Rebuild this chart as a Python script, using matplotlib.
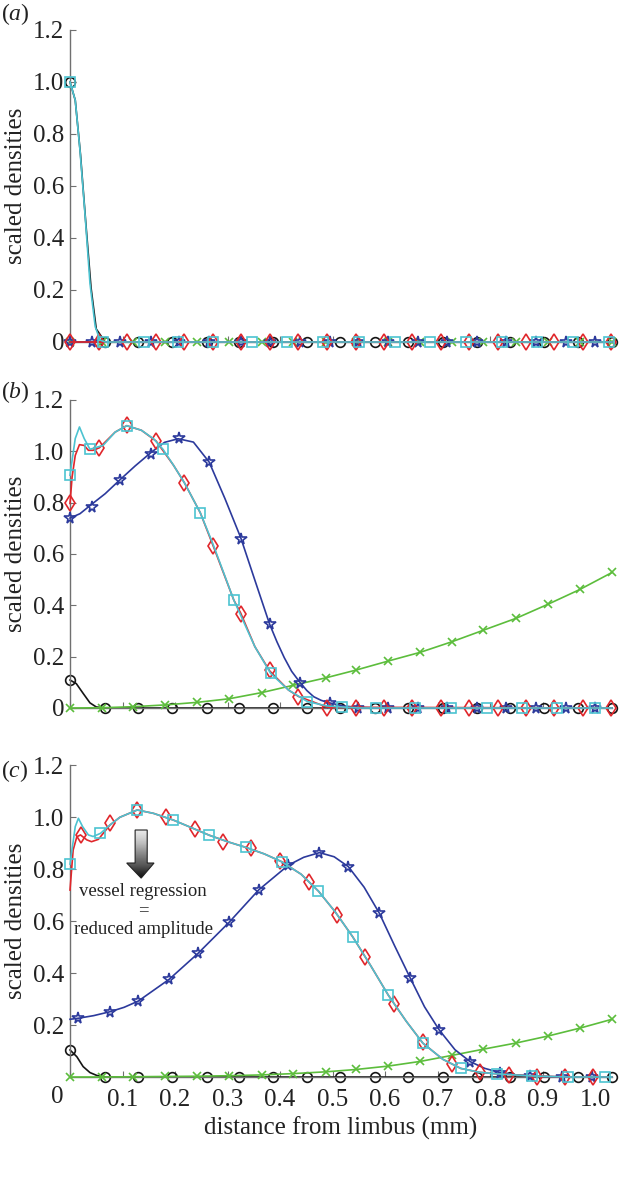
import matplotlib
matplotlib.use('Agg')
import matplotlib.pyplot as plt
import numpy as np
from matplotlib.patches import Polygon

plt.rcParams['font.family'] = ['Liberation Serif', 'DejaVu Serif']
plt.rcParams['mathtext.fontset'] = 'custom'
plt.rcParams['mathtext.it'] = 'Liberation Serif:italic'
plt.rcParams['mathtext.rm'] = 'Liberation Serif'

# ---- data ----
x_ticks = [0, 0.1, 0.2, 0.3, 0.4, 0.5, 0.6, 0.7, 0.8, 0.9, 1.0]
x_ticklabels = ['0', '0.1', '0.2', '0.3', '0.4', '0.5', '0.6', '0.7', '0.8', '0.9', '1.0']
y_ticks_ab = [0, 0.2, 0.4, 0.6, 0.8, 1.0, 1.2]
y_ticklabels_ab = ['0', '0.2', '0.4', '0.6', '0.8', '1.0', '1.2']
y_ticks_c = [0.2, 0.4, 0.6, 0.8, 1.0, 1.2]
y_ticklabels_c = ['0.2', '0.4', '0.6', '0.8', '1.0', '1.2']

# panel (a)
a_cyan_x = [0, 0.01, 0.019, 0.029, 0.038, 0.048, 0.057, 0.067, 1.032]
a_cyan_y = [1.0, 0.93, 0.738, 0.48, 0.226, 0.059, 0.008, 0, 0]
a_cyan_mx = [0, 0.063, 0.14, 0.206, 0.272, 0.346, 0.414, 0.482, 0.55, 0.618,
             0.686, 0.754, 0.822, 0.89, 0.958, 1.026]
a_cyan_my = [1.0, 0, 0, 0, 0, 0, 0, 0, 0, 0, 0, 0, 0, 0, 0, 0]
a_black_x = [0, 0.01, 0.02, 0.03, 0.04, 0.05, 0.067, 1.032]
a_black_y = [1.0, 0.93, 0.72, 0.46, 0.21, 0.05, 0, 0]
a_black_my = [1.0, 0, 0, 0, 0, 0, 0, 0, 0, 0, 0, 0, 0, 0, 0, 0, 0]
a_flat_x = [0, 1.032]
a_flat_y = [0, 0]
a_red_my = [0, 0, 0, 0, 0, 0, 0, 0, 0, 0, 0, 0, 0, 0, 0, 0, 0, 0, 0, 0]
a_blue_my = [0, 0, 0, 0, 0, 0, 0, 0, 0, 0, 0, 0, 0, 0, 0, 0, 0, 0, 0]
a_green_y = [0, 0, 0, 0, 0, 0, 0, 0, 0, 0, 0, 0, 0, 0, 0, 0, 0, 0]

# panel (b)
b_black_x = [0, 0.012, 0.025, 0.038, 0.05, 0.067, 1.032]
b_black_y = [0.109, 0.095, 0.057, 0.02, 0.004, 0, 0]
b_black_mx = [0, 0.067, 0.130, 0.195, 0.260, 0.321, 0.387, 0.452, 0.514, 0.581,
              0.644, 0.710, 0.775, 0.837, 0.902, 0.968, 1.032]
b_black_my = [0.109, 0, 0, 0, 0, 0, 0, 0, 0, 0, 0, 0, 0, 0, 0, 0, 0]

b_green_x = [0, 0.06, 0.12, 0.181, 0.242, 0.303, 0.365, 0.424, 0.488, 0.545,
             0.606, 0.667, 0.727, 0.787, 0.85, 0.911, 0.971, 1.032]
b_green_y = [0, 0.001, 0.005, 0.012, 0.022, 0.036, 0.06, 0.088, 0.118, 0.148,
             0.183, 0.217, 0.258, 0.303, 0.35, 0.405, 0.462, 0.528]

b_blue_x = [0, 0.019, 0.039, 0.067, 0.094, 0.124, 0.154, 0.18, 0.206, 0.235,
            0.265, 0.295, 0.325, 0.352, 0.380, 0.394, 0.408, 0.422, 0.437, 0.451,
            0.464, 0.478, 0.492, 0.52, 0.55, 0.6, 1.032]
b_blue_y = [0.74, 0.757, 0.79, 0.835, 0.887, 0.943, 0.995, 1.035, 1.049, 1.036,
            0.958, 0.816, 0.664, 0.498, 0.327, 0.258, 0.196, 0.143, 0.102, 0.068,
            0.044, 0.03, 0.021, 0.008, 0.002, 0, 0]
b_blue_mx = [0, 0.041, 0.095, 0.154, 0.208, 0.265, 0.325, 0.380, 0.438, 0.495,
             0.549, 0.605, 0.662, 0.718, 0.775, 0.831, 0.888, 0.944, 1.0]
b_blue_my = [0.74, 0.785, 0.887, 0.99, 1.05, 0.958, 0.66, 0.327, 0.098, 0.02,
             0, 0, 0, 0, 0, 0, 0, 0, 0]

b_red_x = [0, 0.004, 0.01, 0.018, 0.027, 0.035, 0.044, 0.056, 0.086, 0.108,
           0.136, 0.164, 0.197, 0.218, 0.248, 0.272, 0.312, 0.325, 0.352, 0.38,
           0.416, 0.435, 0.49, 1.032]
b_red_y = [0.797, 0.9, 0.984, 1.026, 1.023, 1.004, 1.004, 1.014, 1.075, 1.10,
           1.082, 1.04, 0.946, 0.877, 0.761, 0.635, 0.42, 0.37, 0.239, 0.145,
           0.07, 0.045, 0.003, 0]
b_red_mx = [0, 0.056, 0.108, 0.164, 0.218, 0.272, 0.325, 0.380, 0.435, 0.490,
            0.544, 0.598, 0.652, 0.706, 0.760, 0.814, 0.868, 0.922, 0.976, 1.03]
b_red_my = [0.797, 1.014, 1.104, 1.04, 0.877, 0.63, 0.368, 0.15, 0.042, 0,
            0, 0, 0, 0, 0, 0, 0, 0, 0, 0]

b_cyan_x = [0, 0.01, 0.018, 0.027, 0.038, 0.063, 0.086, 0.108, 0.136, 0.159,
            0.177, 0.197, 0.218, 0.248, 0.272, 0.312, 0.352, 0.382, 0.416, 0.452,
            0.489, 0.55, 1.032]
b_cyan_y = [0.907, 1.05, 1.095, 1.05, 1.008, 1.023, 1.075, 1.10, 1.082, 1.049,
            1.008, 0.946, 0.877, 0.761, 0.64, 0.42, 0.239, 0.135, 0.07, 0.025,
            0.008, 0, 0]
b_cyan_mx = [0, 0.038, 0.108, 0.177, 0.248, 0.312, 0.382, 0.452, 0.517, 0.583,
             0.657, 0.726, 0.794, 0.861, 0.928, 1.0]
b_cyan_my = [0.907, 1.008, 1.10, 1.008, 0.761, 0.42, 0.135, 0.025, 0.003, 0,
             0, 0, 0, 0, 0, 0]

# panel (c)
c_black_x = [0, 0.013, 0.025, 0.038, 0.051, 0.067, 1.032]
c_black_y = [0.104, 0.078, 0.04, 0.017, 0.006, 0, 0]
c_black_my = [0.104, 0, 0, 0, 0, 0, 0, 0, 0, 0, 0, 0, 0, 0, 0, 0, 0]

c_green_y = [0, 0, 0.001, 0.002, 0.003, 0.005, 0.008, 0.013, 0.02, 0.029,
             0.042, 0.06, 0.083, 0.107, 0.131, 0.158, 0.188, 0.222]

c_blue_x = [0, 0.016, 0.045, 0.076, 0.103, 0.130, 0.189, 0.244, 0.303, 0.359,
            0.416, 0.445, 0.475, 0.503, 0.530, 0.56, 0.589, 0.618, 0.648, 0.675,
            0.703, 0.733, 0.762, 0.79, 0.819, 0.85, 0.876, 0.937, 1.032]
c_blue_y = [0.222, 0.226, 0.236, 0.251, 0.268, 0.292, 0.376, 0.476, 0.595, 0.719,
            0.815, 0.845, 0.863, 0.847, 0.809, 0.73, 0.63, 0.505, 0.38, 0.27,
            0.181, 0.105, 0.059, 0.033, 0.017, 0.008, 0.004, 0, 0]
c_blue_mx = [0.016, 0.076, 0.130, 0.189, 0.244, 0.303, 0.359, 0.416, 0.475, 0.530,
             0.589, 0.648, 0.703, 0.762, 0.819, 0.876, 0.937, 0.994]
c_blue_my = [0.226, 0.251, 0.292, 0.376, 0.476, 0.595, 0.719, 0.815, 0.863, 0.809,
             0.63, 0.38, 0.181, 0.059, 0.017, 0.004, 0, 0]

c_cyan_x = [0, 0.01, 0.016, 0.024, 0.035, 0.044, 0.058, 0.076, 0.095, 0.128,
            0.159, 0.197, 0.23, 0.265, 0.30, 0.335, 0.37, 0.403, 0.44, 0.473,
            0.505, 0.538, 0.572, 0.606, 0.64, 0.672, 0.71, 0.744, 0.78, 0.813,
            0.88, 0.95, 1.032]
c_cyan_y = [0.819, 0.963, 0.995, 0.963, 0.931, 0.925, 0.937, 0.969, 0.999, 1.027,
            1.014, 0.988, 0.96, 0.93, 0.905, 0.883, 0.858, 0.828, 0.78, 0.715,
            0.635, 0.54, 0.43, 0.315, 0.215, 0.13, 0.068, 0.033, 0.018, 0.012,
            0.004, 0, 0]
c_cyan_mx = [0, 0.058, 0.128, 0.197, 0.265, 0.335, 0.403, 0.473, 0.538, 0.606,
             0.672, 0.744, 0.813, 0.879, 0.949, 1.019]
c_cyan_my = [0.819, 0.937, 1.027, 0.988, 0.93, 0.883, 0.828, 0.715, 0.54, 0.315,
             0.13, 0.033, 0.012, 0.004, 0, 0]

c_red_x = [0, 0.006, 0.013, 0.020, 0.032, 0.041, 0.054, 0.076, 0.095, 0.128,
           0.159, 0.197, 0.23, 0.265, 0.30, 0.335, 0.37, 0.403, 0.44, 0.473,
           0.505, 0.538, 0.572, 0.606, 0.64, 0.672, 0.71, 0.744, 0.78, 0.813,
           0.88, 0.95, 1.032]
c_red_y = [0.719, 0.873, 0.924, 0.931, 0.912, 0.905, 0.914, 0.969, 0.999, 1.027,
           1.014, 0.988, 0.96, 0.93, 0.905, 0.883, 0.858, 0.828, 0.78, 0.715,
           0.635, 0.54, 0.43, 0.315, 0.215, 0.13, 0.068, 0.033, 0.018, 0.012,
           0.004, 0, 0]
c_red_mx = [0.020, 0.076, 0.128, 0.183, 0.238, 0.292, 0.344, 0.400, 0.456, 0.509,
            0.562, 0.617, 0.672, 0.727, 0.781, 0.835, 0.889, 0.943, 0.996]
c_red_my = [0.931, 0.976, 1.027, 0.999, 0.953, 0.905, 0.879, 0.832, 0.749, 0.623,
            0.46, 0.281, 0.136, 0.05, 0.02, 0.008, 0, 0, 0]

RED = '#e0262b'
CYAN = '#4cc3d1'
BLUE = '#2c3a9c'
GREEN = '#5cbd3c'
BLACK = '#151515'
AXIS = '#707070'
TEXT = '#222222'
FS = 18

styles = {
    'black': dict(color=BLACK, marker='o', ms=7, z=2),
    'green': dict(color=GREEN, marker='x', ms=6, z=3),
    'blue': dict(color=BLUE, marker='*', ms=8.5, z=4),
    'red': dict(color=RED, marker='d', ms=8.5, z=5),
    'cyan': dict(color=CYAN, marker='s', ms=6.5, z=6),
}


def series(ax, name, lx, ly, mx, my):
    st = styles[name]
    ax.plot(lx, ly, color=st['color'], lw=1.2, zorder=st['z'], clip_on=False)
    ax.plot(mx, my, ls='none', marker=st['marker'], ms=st['ms'], mfc='none',
            mec=st['color'], mew=1.2, zorder=st['z'], clip_on=False)


def setup(ax, yticks, ylabels, xlabels):
    ax.set_xlim(0, 1.032)
    ax.set_ylim(0, 1.2)
    for s in ['top', 'right']:
        ax.spines[s].set_visible(False)
    for s in ['left', 'bottom']:
        ax.spines[s].set_color(AXIS)
        ax.spines[s].set_linewidth(1.0)
    ax.set_xticks(x_ticks)
    ax.set_xticklabels(xlabels)
    ax.set_yticks(yticks)
    ax.set_yticklabels(ylabels)
    ax.tick_params(direction='in', length=4, width=0.8, color=AXIS,
                   labelsize=FS, colors=TEXT)
    ax.tick_params(axis='y', pad=4)
    ax.tick_params(axis='x', pad=9)


fig = plt.figure(figsize=(6.24, 11.8), dpi=100)
L, W = 70 / 624, 542 / 624
ax_a = fig.add_axes([L, 1 - 342 / 1180, W, 312 / 1180])
ax_b = fig.add_axes([L, 1 - 708 / 1180, W, 308 / 1180])
ax_c = fig.add_axes([L, 1 - 1077 / 1180, W, 312 / 1180])

# (a)
setup(ax_a, y_ticks_ab, y_ticklabels_ab, [''] * len(x_ticks))
series(ax_a, 'black', a_black_x, a_black_y, b_black_mx, a_black_my)
series(ax_a, 'green', a_flat_x, a_flat_y, b_green_x, a_green_y)
series(ax_a, 'blue', a_flat_x, a_flat_y, b_blue_mx, a_blue_my)
series(ax_a, 'red', a_flat_x, a_flat_y, b_red_mx, a_red_my)
series(ax_a, 'cyan', a_cyan_x, a_cyan_y, a_cyan_mx, a_cyan_my)

# (b)
setup(ax_b, y_ticks_ab, y_ticklabels_ab, [''] * len(x_ticks))
series(ax_b, 'black', b_black_x, b_black_y, b_black_mx, b_black_my)
series(ax_b, 'green', b_green_x, b_green_y, b_green_x, b_green_y)
series(ax_b, 'blue', b_blue_x, b_blue_y, b_blue_mx, b_blue_my)
series(ax_b, 'red', b_red_x, b_red_y, b_red_mx, b_red_my)
series(ax_b, 'cyan', b_cyan_x, b_cyan_y, b_cyan_mx, b_cyan_my)

# (c)
setup(ax_c, y_ticks_c, y_ticklabels_c, [''] + x_ticklabels[1:])
series(ax_c, 'black', c_black_x, c_black_y, b_black_mx, c_black_my)
series(ax_c, 'green', b_green_x, c_green_y, b_green_x, c_green_y)
series(ax_c, 'blue', c_blue_x, c_blue_y, c_blue_mx, c_blue_my)
series(ax_c, 'red', c_red_x, c_red_y, c_red_mx, c_red_my)
series(ax_c, 'cyan', c_cyan_x, c_cyan_y, c_cyan_mx, c_cyan_my)
# the "0" label of the x axis sits a bit left of its tick
ax_c.annotate(x_ticklabels[0], xy=(0, 0), xycoords='data', xytext=(-9.5, -6.5),
              textcoords='offset points', ha='center', va='top', fontsize=FS,
              color=TEXT)
ax_c.set_xlabel('distance from limbus (mm)', fontsize=FS, labelpad=4, color=TEXT)

# gradient arrow + note
arrow = Polygon([(0.124, 0.95), (0.147, 0.95), (0.147, 0.823), (0.160, 0.823),
                 (0.1355, 0.765), (0.108, 0.823), (0.124, 0.823)],
                closed=True, facecolor='none', edgecolor='#222222', lw=0.8, zorder=8)
ax_c.add_patch(arrow)
grad = np.linspace(0, 1, 100).reshape(-1, 1)
im = ax_c.imshow(grad, cmap='Greys', extent=(0.105, 0.165, 0.76, 0.955),
                 aspect='auto', origin='upper', vmin=-0.15, vmax=1.05, zorder=7)
im.set_clip_path(arrow)
ax_c.set_xlim(0, 1.032)
ax_c.set_ylim(0, 1.2)
ax_c.text(0.139, 0.712, 'vessel regression', ha='center', va='center', fontsize=13.5,
          color=TEXT, zorder=9)
ax_c.text(0.139, 0.640, '=', ha='center', va='center', fontsize=13.5, color=TEXT, zorder=9)
ax_c.text(0.139, 0.569, 'reduced amplitude', ha='center', va='center', fontsize=13.5,
          color=TEXT, zorder=9)

# y labels and panel letters
for y0, y1, ylet, letter in [(30, 342, 14, 'a'), (400, 708, 392, 'b'), (765, 1077, 771, 'c')]:
    fig.text(16 / 624, 1 - (y0 + y1) / 2 / 1180, 'scaled densities', rotation=90,
             ha='center', va='center', fontsize=FS, color=TEXT)
    fig.text(1 / 624, 1 - ylet / 1180, '($\\mathit{%s}$)' % letter,
             ha='left', va='center', fontsize=17, color=TEXT)

fig.savefig('out.png', dpi=100)
